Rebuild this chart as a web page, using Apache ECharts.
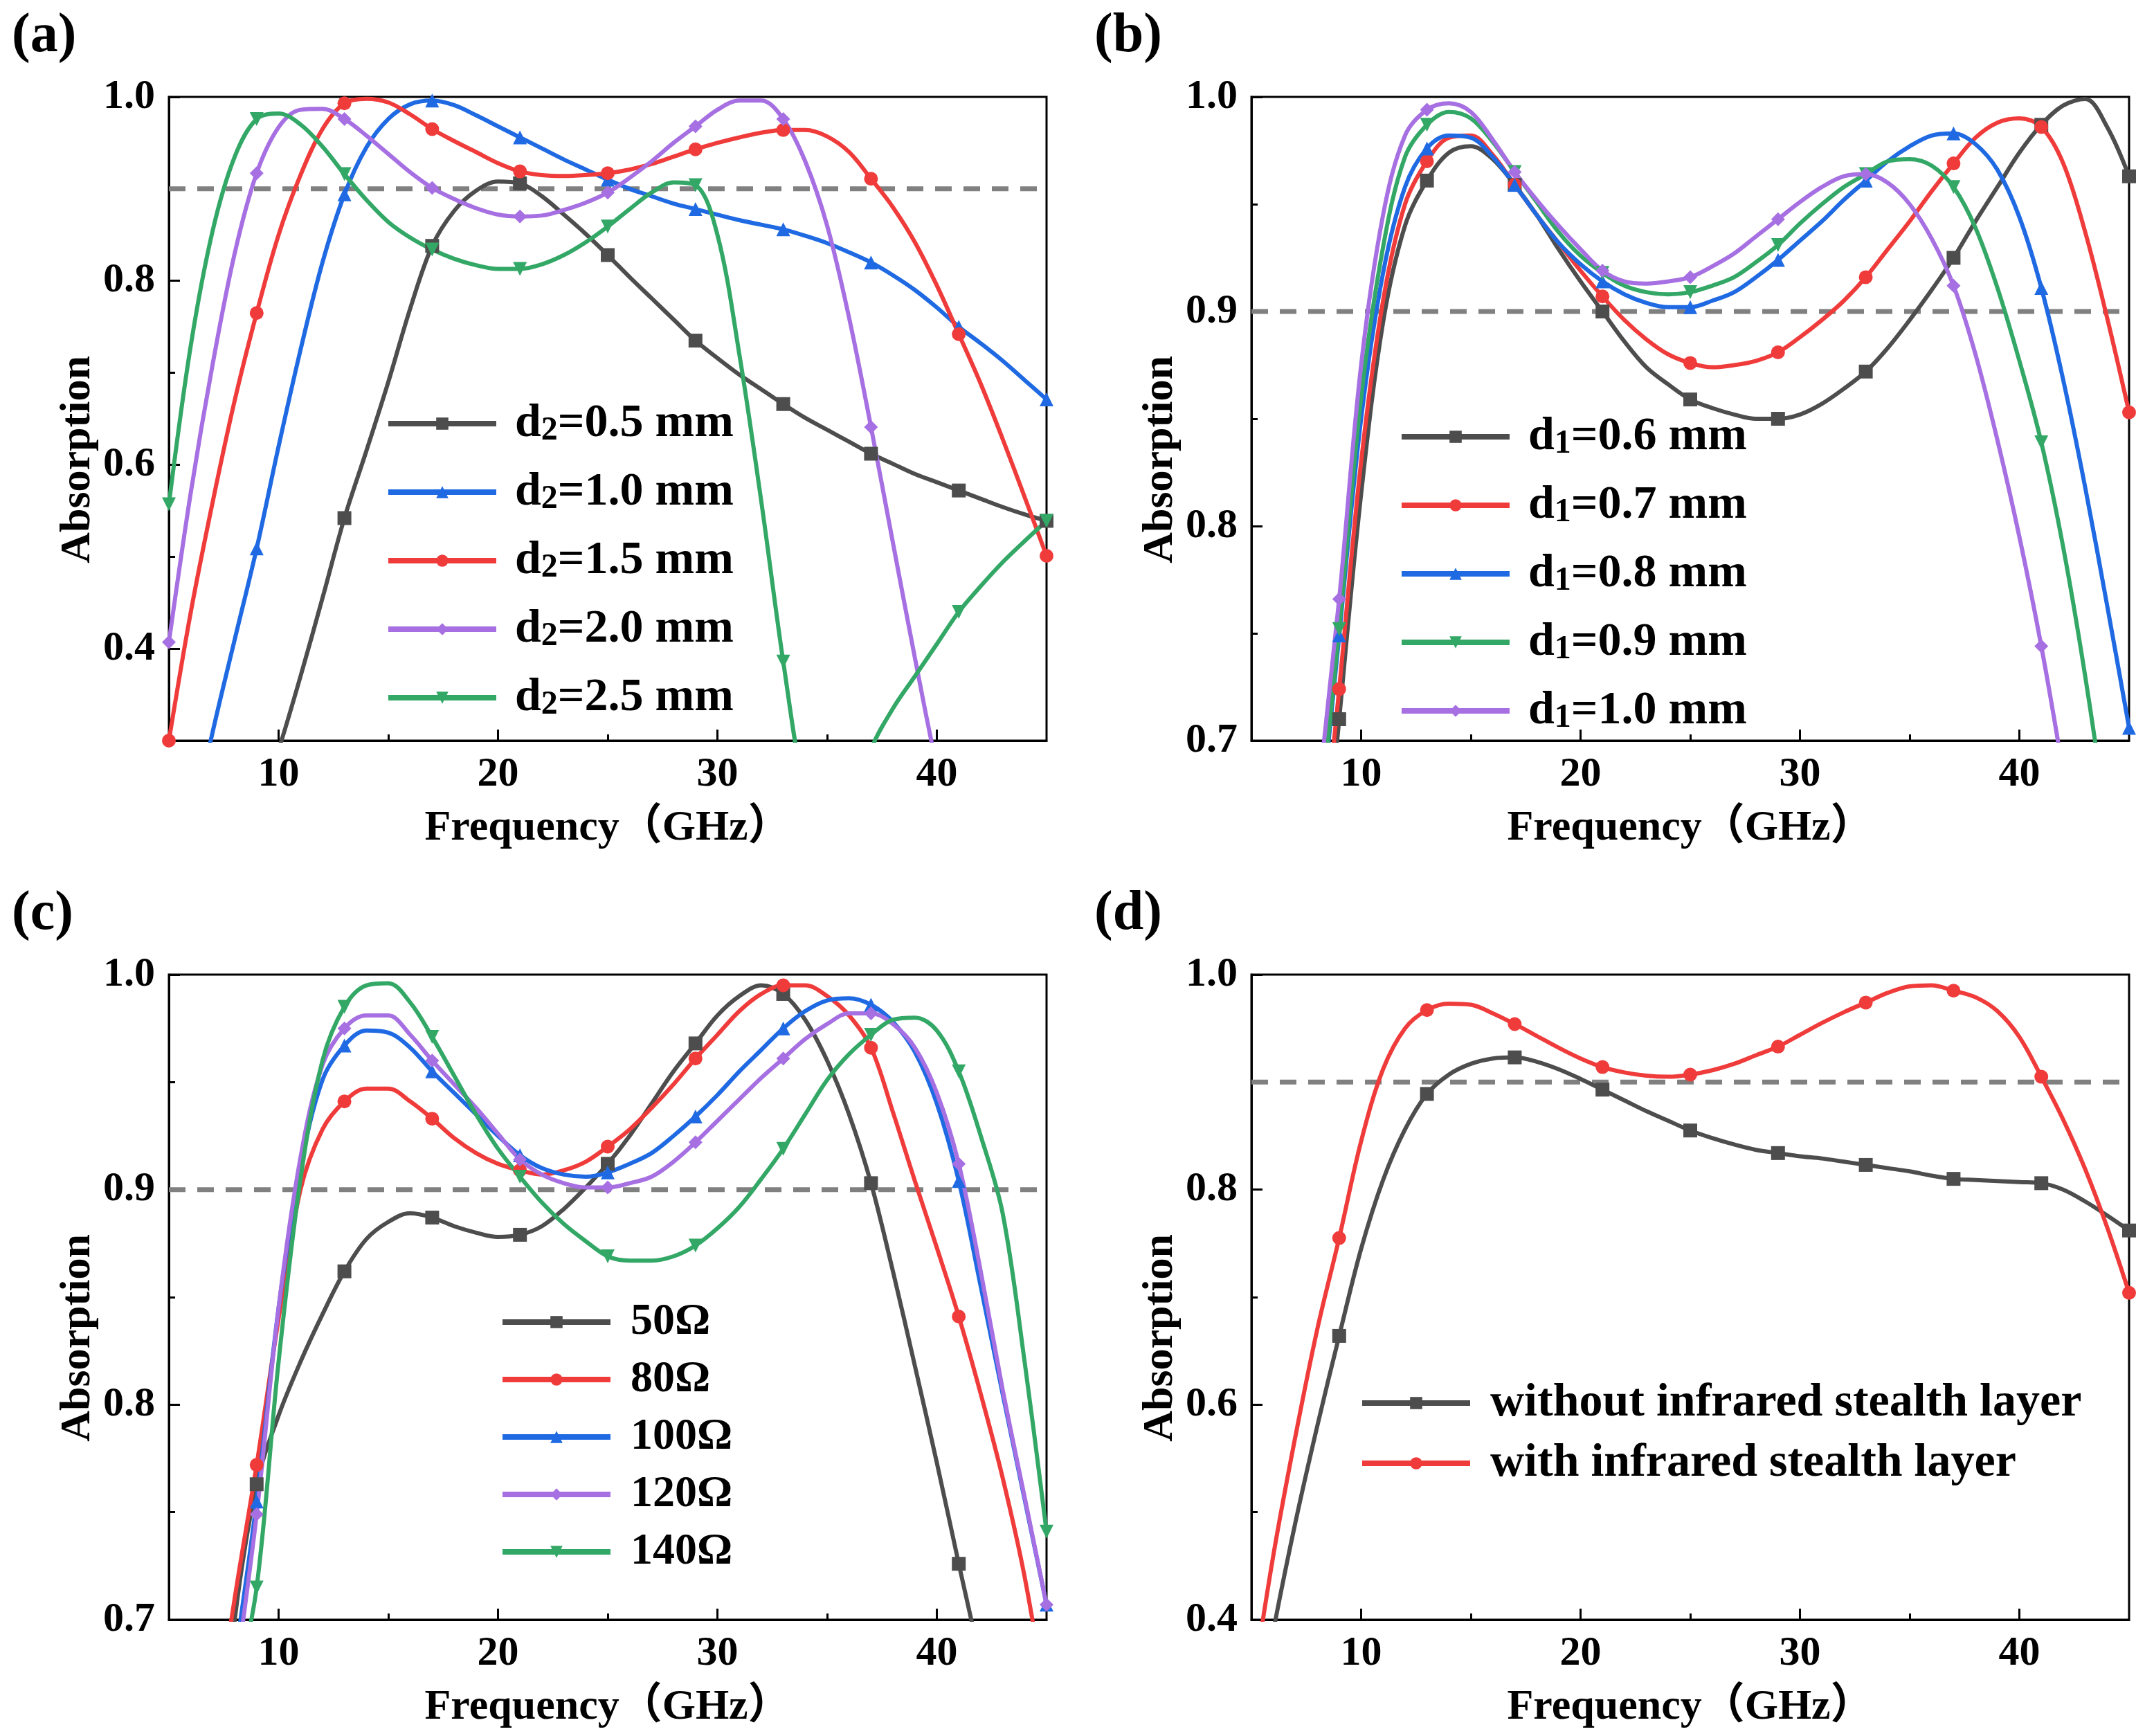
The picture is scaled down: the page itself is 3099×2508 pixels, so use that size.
<!DOCTYPE html>
<html>
<head>
<meta charset="utf-8">
<title>Absorption vs frequency</title>
<script src="https://cdn.jsdelivr.net/npm/echarts@6/dist/echarts.min.js"></script>
<style>
  html, body { margin: 0; padding: 0; background: #fff; }
  #chart { width: 3099px; height: 2508px; }
</style>
</head>
<body>
<div id="chart"></div>
<script>
// Frecuencias (GHz), un punto por GHz; los marcadores van cada 4 GHz (5, 9, 13, ...)
const freq = [5, 6, 7, 8, 9, 10, 11, 12, 13, 14, 15, 16, 17, 18, 19, 20, 21, 22, 23, 24, 25,
              26, 27, 28, 29, 30, 31, 32, 33, 34, 35, 36, 37, 38, 39, 40, 41, 42, 43, 44, 45];

// (a) espesor d2
const aNames = ['d2=0.5 mm', 'd2=1.0 mm', 'd2=1.5 mm', 'd2=2.0 mm', 'd2=2.5 mm'];
const aD05 = [0.00, 0.05, 0.10, 0.16, 0.22, 0.29, 0.37, 0.455, 0.542, 0.615, 0.69, 0.77, 0.838, 0.876, 0.898, 0.908, 0.906, 0.892, 0.872, 0.851,
              0.828, 0.804, 0.781, 0.758, 0.735, 0.716, 0.698, 0.682, 0.666, 0.651, 0.638, 0.625, 0.612, 0.601, 0.590, 0.581, 0.572, 0.563, 0.554, 0.546, 0.539];
const aD10 = [0.08, 0.20, 0.31, 0.41, 0.509, 0.62, 0.725, 0.82, 0.894, 0.945, 0.976, 0.992, 0.996, 0.991, 0.980, 0.968, 0.956, 0.944, 0.932, 0.921,
              0.910, 0.900, 0.892, 0.884, 0.878, 0.872, 0.866, 0.861, 0.856, 0.849, 0.841, 0.831, 0.820, 0.806, 0.790, 0.771, 0.750, 0.732, 0.713, 0.692, 0.671];
const aD15 = [0.30, 0.44, 0.56, 0.67, 0.765, 0.85, 0.915, 0.965, 0.993, 0.998, 0.994, 0.981, 0.965, 0.952, 0.940, 0.928, 0.919, 0.915, 0.914, 0.915,
              0.917, 0.921, 0.927, 0.935, 0.943, 0.950, 0.956, 0.961, 0.964, 0.964, 0.957, 0.940, 0.911, 0.880, 0.842, 0.795, 0.742, 0.688, 0.628, 0.565, 0.501];
const aD20 = [0.407, 0.57, 0.71, 0.83, 0.917, 0.967, 0.986, 0.987, 0.976, 0.958, 0.938, 0.918, 0.901, 0.889, 0.879, 0.872, 0.870, 0.871, 0.877, 0.885,
              0.896, 0.912, 0.930, 0.950, 0.968, 0.986, 0.996, 0.996, 0.976, 0.93, 0.86, 0.76, 0.641, 0.515, 0.39, 0.27, 0.16, 0.07, 0.00, -0.05, -0.10];
const aD25 = [0.557, 0.73, 0.855, 0.935, 0.976, 0.982, 0.970, 0.946, 0.916, 0.888, 0.864, 0.847, 0.834, 0.824, 0.817, 0.813, 0.813, 0.818, 0.828, 0.842,
              0.859, 0.878, 0.896, 0.907, 0.904, 0.85, 0.72, 0.56, 0.386, 0.24, 0.17, 0.20, 0.29, 0.335, 0.37, 0.405, 0.440, 0.468, 0.494, 0.517, 0.539];

// (b) espesor d1
const bNames = ['d1=0.6 mm', 'd1=0.7 mm', 'd1=0.8 mm', 'd1=0.9 mm', 'd1=1.0 mm'];
const bD06 = [0.25, 0.37, 0.48, 0.60, 0.710, 0.815, 0.895, 0.940, 0.961, 0.974, 0.977, 0.971, 0.959, 0.945, 0.929, 0.914, 0.900, 0.886, 0.874, 0.866,
              0.859, 0.855, 0.852, 0.850, 0.850, 0.852, 0.857, 0.864, 0.872, 0.883, 0.896, 0.910, 0.925, 0.942, 0.958, 0.974, 0.987, 0.996, 0.999, 0.986, 0.963];
const bD07 = [0.27, 0.39, 0.50, 0.62, 0.724, 0.83, 0.905, 0.950, 0.970, 0.981, 0.982, 0.973, 0.959, 0.945, 0.932, 0.919, 0.907, 0.896, 0.887, 0.880,
              0.876, 0.874, 0.875, 0.877, 0.881, 0.888, 0.896, 0.905, 0.916, 0.929, 0.942, 0.956, 0.969, 0.981, 0.988, 0.990, 0.986, 0.969, 0.937, 0.897, 0.853];
const bD08 = [0.30, 0.42, 0.53, 0.645, 0.749, 0.85, 0.918, 0.958, 0.976, 0.982, 0.981, 0.972, 0.959, 0.945, 0.932, 0.922, 0.914, 0.908, 0.904, 0.902,
              0.902, 0.905, 0.909, 0.916, 0.924, 0.933, 0.942, 0.952, 0.961, 0.970, 0.977, 0.982, 0.983, 0.978, 0.966, 0.944, 0.911, 0.868, 0.818, 0.763, 0.706];
const bD09 = [0.30, 0.43, 0.54, 0.65, 0.752, 0.86, 0.930, 0.972, 0.987, 0.993, 0.990, 0.979, 0.965, 0.951, 0.937, 0.926, 0.918, 0.912, 0.909, 0.908,
              0.909, 0.912, 0.916, 0.923, 0.931, 0.941, 0.950, 0.958, 0.964, 0.970, 0.971, 0.968, 0.958, 0.939, 0.911, 0.877, 0.839, 0.79, 0.73, 0.66, 0.58];
const bD10 = [0.32, 0.45, 0.56, 0.67, 0.766, 0.875, 0.945, 0.982, 0.994, 0.997, 0.993, 0.980, 0.965, 0.952, 0.940, 0.929, 0.919, 0.914, 0.913, 0.914,
              0.916, 0.921, 0.927, 0.935, 0.943, 0.951, 0.958, 0.963, 0.964, 0.960, 0.950, 0.934, 0.912, 0.880, 0.840, 0.795, 0.744, 0.685, 0.62, 0.55, 0.47];

// (c) resistencia
const cNames = ['50Ω', '80Ω', '100Ω', '120Ω', '140Ω'];
const c50 = [0.40, 0.50, 0.60, 0.70, 0.763, 0.795, 0.820, 0.842, 0.862, 0.877, 0.885, 0.889, 0.887, 0.883, 0.880, 0.878, 0.879, 0.883, 0.891, 0.901,
             0.912, 0.925, 0.940, 0.955, 0.968, 0.981, 0.990, 0.995, 0.991, 0.979, 0.960, 0.935, 0.903, 0.862, 0.818, 0.773, 0.726, 0.68, 0.63, 0.57, 0.50];
const c80 = [0.45, 0.55, 0.64, 0.71, 0.772, 0.84, 0.900, 0.928, 0.941, 0.947, 0.947, 0.941, 0.933, 0.924, 0.917, 0.912, 0.909, 0.907, 0.909, 0.913,
             0.920, 0.928, 0.938, 0.949, 0.961, 0.972, 0.983, 0.991, 0.995, 0.995, 0.990, 0.981, 0.966, 0.936, 0.904, 0.873, 0.841, 0.805, 0.766, 0.72, 0.66];
const c100 = [0.40, 0.50, 0.60, 0.68, 0.755, 0.845, 0.910, 0.951, 0.967, 0.974, 0.973, 0.966, 0.955, 0.945, 0.935, 0.925, 0.916, 0.910, 0.907, 0.906,
              0.908, 0.912, 0.917, 0.925, 0.934, 0.944, 0.955, 0.965, 0.975, 0.983, 0.988, 0.989, 0.986, 0.978, 0.964, 0.940, 0.904, 0.855, 0.805, 0.756, 0.707];
const c120 = [0.40, 0.50, 0.59, 0.67, 0.749, 0.845, 0.915, 0.958, 0.975, 0.981, 0.981, 0.972, 0.960, 0.949, 0.938, 0.926, 0.914, 0.907, 0.903, 0.901,
              0.901, 0.903, 0.906, 0.913, 0.922, 0.932, 0.942, 0.952, 0.961, 0.970, 0.977, 0.982, 0.982, 0.977, 0.966, 0.945, 0.912, 0.862, 0.807, 0.757, 0.707];
const c140 = [0.30, 0.45, 0.57, 0.66, 0.715, 0.82, 0.905, 0.960, 0.985, 0.995, 0.996, 0.987, 0.971, 0.953, 0.935, 0.919, 0.906, 0.894, 0.884, 0.876,
              0.869, 0.867, 0.867, 0.869, 0.874, 0.882, 0.892, 0.905, 0.919, 0.935, 0.951, 0.963, 0.972, 0.979, 0.980, 0.974, 0.955, 0.925, 0.889, 0.82, 0.741];

// (d) capa de sigilo infrarrojo
const dNames = ['without infrared stealth layer', 'with infrared stealth layer'];
const dWithout = [0.28, 0.39, 0.49, 0.58, 0.664, 0.745, 0.809, 0.856, 0.889, 0.907, 0.917, 0.922, 0.923, 0.919, 0.912, 0.903, 0.893, 0.883, 0.873, 0.864,
                  0.855, 0.848, 0.842, 0.837, 0.834, 0.831, 0.829, 0.826, 0.823, 0.820, 0.817, 0.813, 0.810, 0.809, 0.808, 0.807, 0.806, 0.800, 0.789, 0.776, 0.762];
const dWith = [0.33, 0.46, 0.57, 0.67, 0.755, 0.845, 0.912, 0.950, 0.967, 0.973, 0.972, 0.964, 0.954, 0.943, 0.932, 0.922, 0.914, 0.909, 0.906, 0.905,
               0.907, 0.911, 0.917, 0.925, 0.933, 0.944, 0.955, 0.965, 0.974, 0.983, 0.989, 0.990, 0.985, 0.979, 0.966, 0.942, 0.905, 0.865, 0.819, 0.765, 0.704];

// Ejes: etiquetas y marcas
const xMajor = [10, 20, 30, 40];
const xMinor = [15, 25, 35];
const yMajorWide = [0.4, 0.6, 0.8, 1.0];
const yMinorWide = [0.5, 0.7, 0.9];
const yMajorNarrow = [0.7, 0.8, 0.9, 1.0];
const yMinorNarrow = [0.75, 0.85, 0.95];
const threshold = 0.9;

const FONT = '"Liberation Serif", "Times New Roman", "Noto Sans CJK SC", serif';
const BLACK = '#4d4d4d', RED = '#f03b3b', BLUE = '#1f6ae3', PURPLE = '#a66fe2', GREEN = '#33a866';

// Marcadores: negro cuadrado, rojo círculo, azul triángulo, morado rombo, verde triángulo invertido
const K = { color: BLACK, symbol: 'rect', rotate: 0 };
const R = { color: RED, symbol: 'circle', rotate: 0 };
const B = { color: BLUE, symbol: 'triangle', rotate: 0 };
const P = { color: PURPLE, symbol: 'diamond', rotate: 0 };
const G = { color: GREEN, symbol: 'triangle', rotate: 180 };

// Posición de cada panel (px)
const panels = [
    { label: '(a)', left: 244, top: 140, height: 930, yMin: 0.3, yStep: 0.1, yMajor: yMajorWide, yMinor: yMinorWide },
    { label: '(b)', left: 1808, top: 140, height: 930, yMin: 0.7, yStep: 0.05, yMajor: yMajorNarrow, yMinor: yMinorNarrow },
    { label: '(c)', left: 244, top: 1408, height: 932, yMin: 0.7, yStep: 0.05, yMajor: yMajorNarrow, yMinor: yMinorNarrow },
    { label: '(d)', left: 1808, top: 1408, height: 932, yMin: 0.4, yStep: 0.1, yMajor: yMajorWide, yMinor: yMinorWide }
];

const grids = [], xAxes = [], yAxes = [], titles = [], series = [];

panels.forEach((p, i) => {
    grids.push({
        left: p.left, top: p.top, width: 1268, height: p.height,
        show: true, borderColor: '#000', borderWidth: 3
    });
    titles.push({
        text: p.label, left: p.left - 227, top: p.top - 127, padding: 0,
        textStyle: { fontFamily: FONT, fontSize: 80, fontWeight: 'bold', color: '#000' }
    });

    // eje X principal
    xAxes.push({
        type: 'value', gridIndex: i, min: 5, max: 45, interval: 5, position: 'bottom',
        name: 'Frequency（GHz）', nameLocation: 'middle', nameGap: 96,
        nameTextStyle: { fontFamily: FONT, fontSize: 62, fontWeight: 'bold', color: '#000' },
        axisLine: { lineStyle: { color: '#000', width: 3 } },
        axisTick: { inside: true, length: 16, lineStyle: { width: 3, color: '#000' }, customValues: xMajor },
        axisLabel: { customValues: xMajor, margin: 19, fontFamily: FONT, fontSize: 60, fontWeight: 'bold', color: '#000' },
        splitLine: { show: false }
    });
    // eje X secundario solo para marcas menores
    xAxes.push({
        type: 'value', gridIndex: i, min: 5, max: 45, interval: 5, position: 'bottom',
        axisLine: { show: false },
        axisTick: { inside: true, length: 9, lineStyle: { width: 3, color: '#000' }, customValues: xMinor },
        axisLabel: { show: false },
        splitLine: { show: false }
    });

    yAxes.push({
        type: 'value', gridIndex: i, min: p.yMin, max: 1.0, interval: p.yStep, position: 'left',
        name: 'Absorption', nameLocation: 'middle', nameGap: 100,
        nameTextStyle: { fontFamily: FONT, fontSize: 62, fontWeight: 'bold', color: '#000', padding: [0, 118, 0, 0] },
        axisLine: { lineStyle: { color: '#000', width: 3 } },
        axisTick: { inside: true, length: 16, lineStyle: { width: 3, color: '#000' }, customValues: p.yMajor },
        axisLabel: {
            customValues: p.yMajor, margin: 20, fontFamily: FONT, fontSize: 60, fontWeight: 'bold', color: '#000',
            formatter: v => Number(v).toFixed(1)
        },
        splitLine: { show: false }
    });
    yAxes.push({
        type: 'value', gridIndex: i, min: p.yMin, max: 1.0, interval: p.yStep, position: 'left',
        axisLine: { show: false },
        axisTick: { inside: true, length: 9, lineStyle: { width: 3, color: '#000' }, customValues: p.yMinor },
        axisLabel: { show: false },
        splitLine: { show: false }
    });

    // línea de referencia discontinua en 0.9
    series.push({
        name: 'ref' + i, type: 'line', xAxisIndex: 2 * i, yAxisIndex: 2 * i,
        data: [[5, threshold], [45, threshold]], symbol: 'none', silent: true, z: 1,
        lineStyle: { color: '#808080', width: 7, type: [24, 17] }
    });
});

function addSeries(panel, name, values, st) {
    series.push({
        name: name, type: 'line', xAxisIndex: 2 * panel, yAxisIndex: 2 * panel,
        data: freq.map((f, k) => [f, values[k]]),
        smooth: 0.35, clip: true,
        symbol: st.symbol, symbolRotate: st.rotate,
        symbolSize: (val, params) => (params.dataIndex % 4 === 0 ? 20 : 0),
        lineStyle: { color: st.color, width: 6 },
        itemStyle: { color: st.color },
        z: 3
    });
}

[aD05, aD10, aD15, aD20, aD25].forEach((v, k) => addSeries(0, aNames[k], v, [K, B, R, P, G][k]));
[bD06, bD07, bD08, bD09, bD10].forEach((v, k) => addSeries(1, bNames[k], v, [K, R, B, G, P][k]));
[c50, c80, c100, c120, c140].forEach((v, k) => addSeries(2, cNames[k], v, [K, R, B, P, G][k]));
[dWithout, dWith].forEach((v, k) => addSeries(3, dNames[k], v, [K, R][k]));

// Texto de leyenda (con subíndice en a y b)
function richText(size, subSize, spacer) {
    return {
        g: { width: spacer },
        t: { fontFamily: FONT, fontSize: size, fontWeight: 'bold', color: '#000', lineHeight: 70 },
        s: { fontFamily: FONT, fontSize: subSize, fontWeight: 'bold', color: '#000', lineHeight: 22, verticalAlign: 'bottom' }
    };
}
function subFormatter(name) {
    return '{g|}{t|d}{s|' + name.charAt(1) + '}{t|' + name.slice(2) + '}';
}
function plainFormatter(name) {
    return '{g|}{t|' + name + '}';
}
function makeLegend(names, left, top, gap, fmt, size, spacer) {
    return {
        data: names, orient: 'vertical', left: left, top: top, itemGap: gap,
        itemWidth: 156, itemHeight: 22, padding: 0, selectedMode: false,
        lineStyle: { width: 8 },
        formatter: fmt,
        textStyle: { rich: richText(size, 48, spacer) }
    };
}

const option = {
    animation: false,
    backgroundColor: '#fff',
    title: titles,
    grid: grids,
    xAxis: xAxes,
    yAxis: yAxes,
    legend: [
        makeLegend(aNames, 557, 578, 30, subFormatter, 68, 22),
        makeLegend(bNames, 2021, 597, 30, subFormatter, 68, 22),
        makeLegend(cNames, 722, 1878, 19, plainFormatter, 64, 24),
        makeLegend(dNames, 1964, 1993, 19, plainFormatter, 68, 24)
    ],
    series: series
};

const chart = echarts.init(document.getElementById('chart'));
chart.setOption(option);
</script>
</body>
</html>
